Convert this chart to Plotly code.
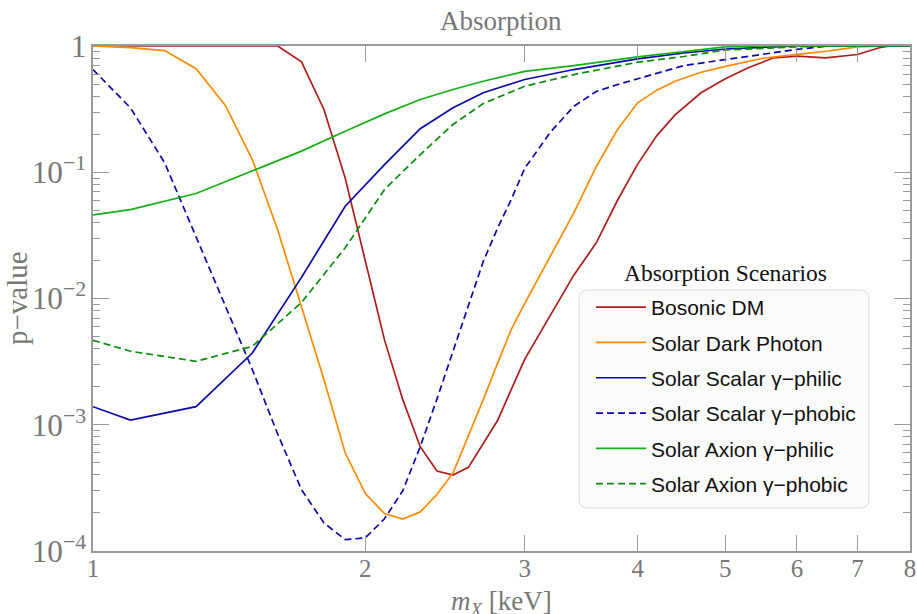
import plotly.graph_objects as go

# ---------------- data ----------------
bosonic_x = [1.0, 1.6, 1.7, 1.8, 1.9, 2.0, 2.1, 2.2, 2.3, 2.4, 2.5, 2.6, 2.8, 3.0, 3.2,
             3.4, 3.6, 3.8, 4.0, 4.2, 4.4, 4.7, 5.0, 5.3, 5.65, 6.0, 6.45, 7.0, 7.4, 7.6, 8.0]
bosonic_y = [1.0, 1.0, 0.75, 0.314, 0.09, 0.02, 0.0047, 0.00158, 6.7e-4, 4.3e-4, 4.0e-4,
             4.6e-4, 1.08e-3, 3.3e-3, 7.3e-3, 0.0153, 0.0276, 0.06, 0.116, 0.195, 0.285,
             0.426, 0.55, 0.672, 0.806, 0.83, 0.806, 0.856, 0.968, 1.0, 1.0]

photon_x = [1.0, 1.1, 1.2, 1.3, 1.4, 1.5, 1.6, 1.7, 1.8, 1.9, 2.0, 2.1, 2.2, 2.3, 2.4, 2.5,
            2.6, 2.7, 2.8, 2.9, 3.0, 3.2, 3.4, 3.6, 3.8, 4.0, 4.2, 4.4, 4.7, 5.0, 5.5, 6.0,
            6.5, 7.0, 7.5, 8.0]
photon_y = [1.0, 0.97, 0.92, 0.66, 0.34, 0.126, 0.035, 8.6e-3, 2.28e-3, 6.0e-4, 2.85e-4,
            1.98e-4, 1.79e-4, 2.04e-4, 2.8e-4, 4.15e-4, 8.1e-4, 1.58e-3, 3.06e-3, 5.7e-3,
            9.1e-3, 0.0216, 0.0477, 0.111, 0.218, 0.355, 0.447, 0.526, 0.62, 0.69, 0.80,
            0.857, 0.913, 0.985, 1.0, 1.0]

scalar_philic_x = [1.0, 1.1, 1.3, 1.5, 1.7, 1.9, 2.1, 2.3, 2.5, 2.7, 3.0, 3.4, 4.0, 4.5,
                   5.0, 5.5, 6.0, 8.0]
scalar_philic_y = [1.39e-3, 1.09e-3, 1.39e-3, 3.7e-3, 0.0147, 0.0538, 0.115, 0.221, 0.324,
                   0.426, 0.543, 0.651, 0.792, 0.88, 0.947, 0.98, 1.0, 1.0]

scalar_phobic_x = [1.0, 1.1, 1.2, 1.3, 1.4, 1.5, 1.6, 1.7, 1.8, 1.9, 2.0, 2.1, 2.2, 2.3,
                   2.4, 2.5, 2.6, 2.7, 2.8, 2.9, 3.0, 3.2, 3.4, 3.6, 3.8, 4.0, 4.5, 5.0,
                   5.5, 6.0, 6.5, 8.0]
scalar_phobic_y = [0.65, 0.324, 0.119, 0.031, 0.0089, 2.74e-3, 8.45e-4, 3.06e-4, 1.67e-4,
                   1.23e-4, 1.27e-4, 1.8e-4, 3.0e-4, 6.7e-4, 1.6e-3, 3.9e-3, 8.8e-3, 0.0196,
                   0.036, 0.061, 0.107, 0.206, 0.333, 0.436, 0.495, 0.55, 0.70, 0.78, 0.857,
                   0.94, 1.0, 1.0]

axion_philic_x = [1.0, 1.1, 1.3, 1.5, 1.7, 1.9, 2.1, 2.3, 2.5, 2.7, 3.0, 3.4, 4.0, 4.5,
                  5.0, 5.5, 8.0]
axion_philic_y = [0.046, 0.0506, 0.0678, 0.102, 0.147, 0.211, 0.29, 0.377, 0.452, 0.526,
                  0.63, 0.70, 0.82, 0.905, 0.985, 1.0, 1.0]

axion_phobic_x = [1.0, 1.1, 1.3, 1.5, 1.7, 1.9, 2.1, 2.3, 2.5, 2.7, 3.0, 3.4, 4.0, 4.5,
                  5.0, 5.5, 6.0, 6.5, 8.0]
axion_phobic_y = [4.67e-3, 3.82e-3, 3.18e-3, 4.18e-3, 9.3e-3, 0.0252, 0.073, 0.138, 0.239,
                  0.35, 0.48, 0.594, 0.744, 0.826, 0.93, 0.964, 0.985, 1.0, 1.0]

series_names = ["Bosonic DM", "Solar Dark Photon", "Solar Scalar γ−philic",
                "Solar Scalar γ−phobic", "Solar Axion γ−philic", "Solar Axion γ−phobic"]
series_x = [bosonic_x, photon_x, scalar_philic_x, scalar_phobic_x, axion_philic_x, axion_phobic_x]
series_y = [bosonic_y, photon_y, scalar_philic_y, scalar_phobic_y, axion_philic_y, axion_phobic_y]
series_colors = ["#b01c1c", "#ff8a00", "#0a0aaa", "#0a0aaa", "#14b014", "#0c8c0c"]
series_dash = ["solid", "solid", "solid", "7px,4px", "solid", "7px,4px"]

x_ticks = [1, 2, 3, 4, 5, 6, 7, 8]

# ---------------- figure ----------------
fig = go.Figure()
for i, (name, xs, ys, col, dash) in enumerate(zip(series_names, series_x, series_y,
                                                  series_colors, series_dash)):
    fig.add_trace(go.Scatter(x=xs, y=ys, mode="lines", name=name, legendgroup=f"g{i}",
                             line=dict(color=col, width=1.7, dash=dash)))

axis_col = "#9a9a9a"
lab_col = "#777777"
serif = "Liberation Serif, Times New Roman, serif"

W, H = 917, 614
L, R, T, B = 93, 7, 46, 63
pw, ph = W - L - R, H - T - B


def px2x(px):
    return (px - L) / pw


def py2y(py):
    return (H - B - py) / ph


fig.update_layout(
    width=W, height=H,
    margin=dict(l=L, r=R, t=T, b=B, autoexpand=False),
    paper_bgcolor="white", plot_bgcolor="white",
    showlegend=True,
    xaxis=dict(type="log", range=[0, 0.90309], tickmode="array", tickvals=x_ticks,
               ticktext=[str(v) for v in x_ticks], ticks="inside", ticklen=16,
               tickwidth=1.3, tickcolor=axis_col, showline=True, linecolor=axis_col,
               linewidth=1.5, mirror="ticks", showgrid=False, zeroline=False,
               automargin=False, ticklabelstandoff=-6,
               tickfont=dict(family=serif, size=25, color=lab_col)),
    yaxis=dict(type="log", range=[-4, 0], tick0=0, dtick=1, exponentformat="power",
               showexponent="all", ticks="inside", ticklen=16, tickwidth=1.3,
               tickcolor=axis_col, showline=True, linecolor=axis_col, linewidth=1.5,
               mirror="ticks", showgrid=False, zeroline=False, automargin=False,
               tickfont=dict(family=serif, size=25, color=lab_col),
               minor=dict(dtick="D1", ticks="inside", ticklen=7,
                          tickwidth=1.1, tickcolor=axis_col, showgrid=False)),
    legend=dict(x=px2x(591), y=py2y(287), xanchor="left", yanchor="top",
                bgcolor="rgba(0,0,0,0)", borderwidth=0, itemwidth=50,
                tracegroupgap=5,
                font=dict(family="Liberation Sans, Arial, sans-serif", size=21,
                          color="#111111")),
)

# rounded legend frame
x0, x1 = px2x(579), px2x(869)
y0, y1 = py2y(508), py2y(290)
rx, ry = 9 / pw, 9 / ph
path = (f"M {x0+rx},{y0} L {x1-rx},{y0} Q {x1},{y0} {x1},{y0+ry} L {x1},{y1-ry} "
        f"Q {x1},{y1} {x1-rx},{y1} L {x0+rx},{y1} Q {x0},{y1} {x0},{y1-ry} "
        f"L {x0},{y0+ry} Q {x0},{y0} {x0+rx},{y0} Z")
fig.add_shape(type="path", path=path, xref="paper", yref="paper",
              fillcolor="#fbfbfb", line=dict(color="#dcdcdc", width=1), layer="above")

fig.add_annotation(text="Absorption", xref="paper", yref="paper",
                   x=px2x(501), y=py2y(21), xanchor="center", yanchor="middle",
                   showarrow=False, font=dict(family=serif, size=27, color=lab_col))
fig.add_annotation(text="Absorption Scenarios", xref="paper", yref="paper",
                   x=px2x(725), y=py2y(273), xanchor="center", yanchor="middle",
                   showarrow=False, font=dict(family=serif, size=23.5, color="#111111"))
fig.add_annotation(text="p−value", xref="paper", yref="paper", textangle=-90,
                   x=px2x(17), y=py2y(298), xanchor="center", yanchor="middle",
                   showarrow=False, font=dict(family=serif, size=29, color=lab_col))
fig.add_annotation(text="<i>m</i><sub><i>X</i></sub> [keV]", xref="paper", yref="paper",
                   x=px2x(501), y=py2y(603), xanchor="center", yanchor="middle",
                   showarrow=False, font=dict(family=serif, size=27, color=lab_col))

fig.write_html("out.html", config={"displayModeBar": False},
               post_script="document.body.style.margin='0';document.body.style.padding='0';")
